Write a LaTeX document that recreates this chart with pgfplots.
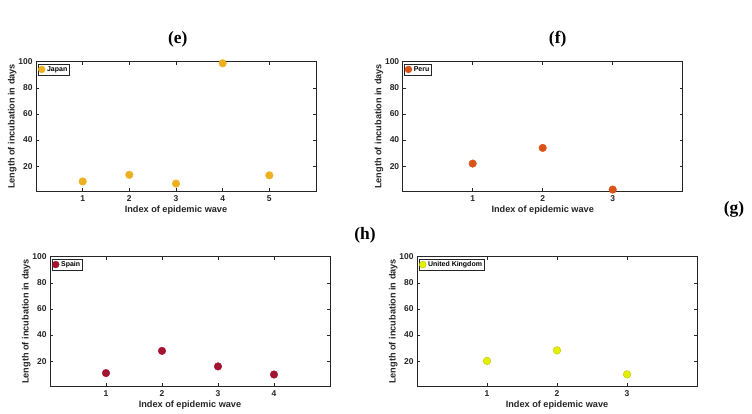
\documentclass[border=0pt]{standalone}
\usepackage{pgfplots}
\pgfplotsset{compat=1.18}
\usepackage{fontspec}
\setmainfont{Liberation Serif}
\newfontfamily\arial{Liberation Sans}
\definecolor{cJapan}{RGB}{237,177,32}
\definecolor{cPeru}{RGB}{217,83,25}
\definecolor{cSpain}{RGB}{162,20,47}
\definecolor{cUK}{RGB}{226,240,0}
\definecolor{axgray}{RGB}{38,38,38}
\pgfplotsset{
  wave/.style={
    scale only axis, width=280bp, height=129.3bp, anchor=south west,
    ymin=1, ymax=100, ytick={20,40,60,80,100},
    tick align=inside, major tick length=3bp,
    axis line style={axgray, line width=0.6pt},
    every tick/.style={axgray, line width=0.5pt},
    /pgf/number format/assume math mode=true,
    tick label style={font=\arial\bfseries\fontsize{8.5}{9}\selectfont, text=axgray},
    xticklabel style={yshift=-1.5bp},
    label style={font=\arial\bfseries\fontsize{9.2}{10}\selectfont, text=axgray},
    xlabel={Index of epidemic wave},
    ylabel={Length of incubation in days},
    xlabel style={yshift=3bp},
    ylabel style={yshift=-5bp},
    legend style={at={(0.006,0.985)}, anchor=north west,
      font=\arial\bfseries\fontsize{7}{7.5}\selectfont,
      inner sep=0.4bp, draw=axgray, line width=0.5pt,
      legend cell align=left},
    legend image post style={mark size=3.4bp},
  }
}
\begin{document}
\begin{tikzpicture}
\path[use as bounding box, fill=white] (0bp,0bp) rectangle (752bp,414bp);
% (e) Japan
\begin{axis}[wave, at={(36bp,223bp)}, xmin=0, xmax=6, xtick={1,2,3,4,5}]
\addplot[only marks, mark=*, mark size=3.8bp, color=cJapan, mark options={fill=cJapan, draw=cJapan}]
  coordinates {(1,8.3) (2,13.4) (3,6.7) (4,98.8) (5,13.0)};
\addlegendentry{Japan}
\end{axis}
% (f) Peru
\begin{axis}[wave, at={(402.7bp,223bp)}, xmin=0, xmax=4, xtick={1,2,3}]
\addplot[only marks, mark=*, mark size=3.8bp, color=cPeru, mark options={fill=cPeru, draw=cPeru}]
  coordinates {(1,22.0) (2,34.0) (3,2.1)};
\addlegendentry{Peru}
\end{axis}
% Spain
\begin{axis}[wave, at={(50bp,28bp)}, xmin=0, xmax=5, xtick={1,2,3,4}]
\addplot[only marks, mark=*, mark size=3.8bp, color=cSpain, mark options={fill=cSpain, draw=cSpain}]
  coordinates {(1,10.9) (2,27.9) (3,16.0) (4,9.8)};
\addlegendentry{Spain}
\end{axis}
% United Kingdom
\begin{axis}[wave, at={(417bp,28bp)}, xmin=0, xmax=4, xtick={1,2,3}]
\addplot[only marks, mark=*, mark size=3.8bp, color=cUK, mark options={fill=cUK, draw=cUK!85!black}]
  coordinates {(1,20.2) (2,28.3) (3,9.9)};
\addlegendentry{United Kingdom}
\end{axis}
% panel letters
\node[font=\bfseries\fontsize{17.5}{18}\selectfont] at (177.7bp,375bp) {(e)};
\node[font=\bfseries\fontsize{17.5}{18}\selectfont] at (557.7bp,375bp) {(f)};
\node[font=\bfseries\fontsize{17.5}{18}\selectfont] at (734bp,205bp) {(g)};
\node[font=\bfseries\fontsize{17.5}{18}\selectfont] at (365bp,179bp) {(h)};
\end{tikzpicture}
\end{document}
